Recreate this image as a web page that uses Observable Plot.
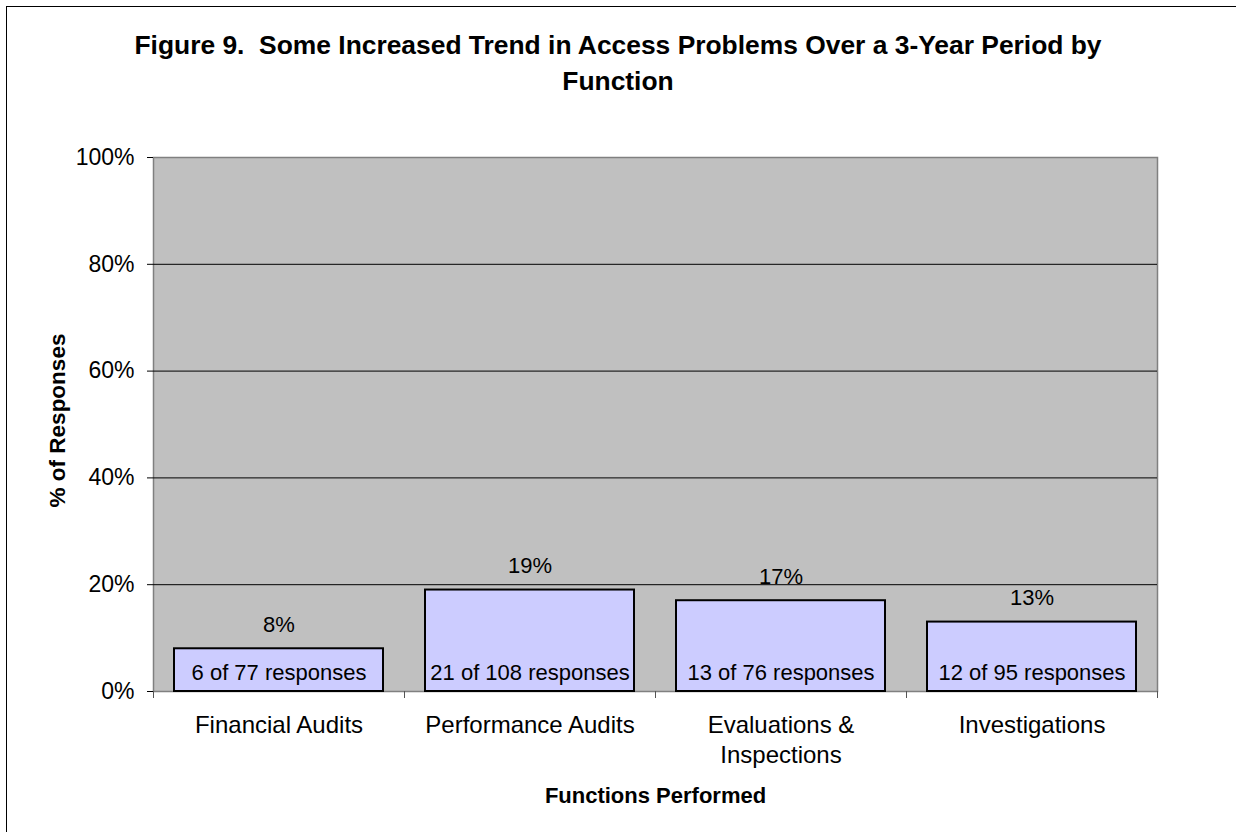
<!DOCTYPE html>
<html><head><meta charset="utf-8">
<script src="https://cdn.jsdelivr.net/npm/d3@7"></script>
<script src="https://cdn.jsdelivr.net/npm/@observablehq/plot@0.6"></script>
<style>
body{margin:0;background:#fff;overflow:hidden;font-family:"Liberation Sans",Arial,sans-serif;}
#wrap{position:relative;width:1236px;height:832px;overflow:hidden;background:#fff;}
#border{position:absolute;left:6px;top:6px;width:1300px;height:900px;border:1px solid #000;}
#title{position:absolute;left:0;top:27px;width:1236px;text-align:center;font-weight:bold;font-size:26.4px;line-height:36px;color:#000;}
#chart{position:absolute;left:0;top:130px;}
</style></head><body>
<div id="wrap"><div id="border"></div><div id="title">Figure 9.&nbsp; Some Increased Trend in Access Problems Over a 3-Year Period by<br>Function</div><div id="chart"></div></div>
<script>
const categories = ["Financial Audits","Performance Audits","Evaluations &\nInspections","Investigations"];
const percents = [8,19,17,13];
const positives = [6,21,13,12];
const totals = [77,108,76,95];
const yTicks = [0,20,40,60,80,100];
const gridTicks = [20,40,60,80];
const data = categories.map((c,i)=>({category:c, pct:percents[i], n:positives[i], total:totals[i]}));
const width=1236, height=702, mL=153, mR=79, mT=27, mB=141;
const half = (width-mL-mR)/categories.length/2;
const plot = Plot.plot({
  width, height, marginLeft:mL, marginRight:mR, marginTop:mT, marginBottom:mB,
  style:{fontFamily:'"Liberation Sans", Arial, sans-serif', fontSize:"22px", color:"#000", background:"transparent"},
  x:{domain:categories, padding:0, axis:null, label:null},
  y:{domain:[0,100], axis:null, label:null},
  marks:[
    Plot.frame({fill:"#C0C0C0", stroke:"#808080", strokeWidth:1.5}),
    Plot.gridY(gridTicks,{stroke:"#000", strokeOpacity:1}),
    Plot.axisX({tickSize:7, tickFormat:()=>"", dx:-half, stroke:"#555", label:null}),
    Plot.axisX(categories.slice(-1), {tickSize:7, tickFormat:()=>"", dx:half, stroke:"#555", label:null}),
    Plot.axisX({tickSize:0, tickPadding:20, fontSize:24, lineHeight:1.25, label:null}),
    Plot.axisY(yTicks,{tickSize:6, tickPadding:13, fontSize:23, tickFormat:d=>d+"%", stroke:"#000", label:null}),
    Plot.barY(data,{x:"category", y:"pct", fill:"#CCCCFF", stroke:"#000", strokeWidth:2, insetLeft:21, insetRight:21}),
    Plot.text(data,{x:"category", y:"pct", text:d=>d.pct+"%", lineAnchor:"bottom", dy:-17, fontSize:22}),
    Plot.text(data,{x:"category", y:()=>0, text:d=>`${d.n} of ${d.total} responses`, lineAnchor:"bottom", dy:-12, fontSize:22}),
    Plot.text(["Functions Performed"],{frameAnchor:"bottom", lineAnchor:"bottom", dy:111, fontWeight:"bold", fontSize:22}),
    Plot.text(["% of Responses"],{frameAnchor:"left", textAnchor:"middle", rotate:-90, dx:-96, dy:-4, fontWeight:"bold", fontSize:22.5})
  ]
});
document.getElementById("chart").appendChild(plot);
</script>
</body></html>
